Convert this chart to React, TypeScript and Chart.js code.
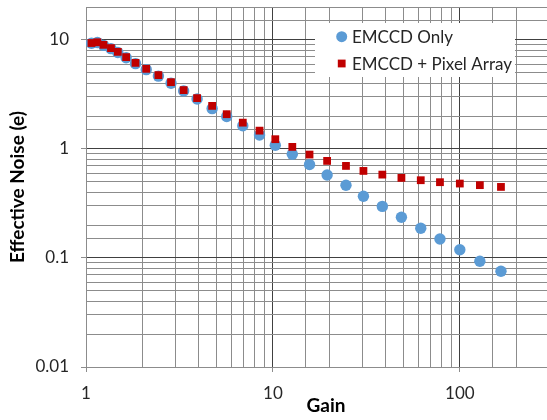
import React, { useEffect, useRef } from "react";
import { Chart, registerables } from "chart.js";

Chart.register(...registerables);

const gain = [1.07, 1.15, 1.24, 1.36, 1.48, 1.64, 1.84, 2.1, 2.44, 2.85, 3.33, 3.93, 4.73, 5.66, 6.9, 8.48, 10.3, 12.7, 15.7, 19.5, 24.6, 30.5, 38.5, 48.7, 61.8, 78.3, 100, 128, 166];
const emccdOnly = [9.3, 9.45, 8.9, 8.3, 7.65, 6.85, 6.05, 5.33, 4.65, 4.0, 3.4, 2.87, 2.34, 1.98, 1.63, 1.34, 1.08, 0.894, 0.718, 0.577, 0.464, 0.368, 0.297, 0.236, 0.187, 0.149, 0.119, 0.0933, 0.0755];
const emccdPixel = [9.35, 9.5, 9.0, 8.4, 7.76, 6.94, 6.15, 5.42, 4.75, 4.09, 3.46, 2.92, 2.48, 2.08, 1.74, 1.47, 1.227, 1.043, 0.887, 0.776, 0.698, 0.628, 0.581, 0.542, 0.516, 0.495, 0.481, 0.465, 0.448];
const seriesNames = ["EMCCD Only", "EMCCD + Pixel Array"];
const xTitle = "Gain";
const yTitle = "Effective Noise (e)";
const xRange = [1, 300];
const yRange = [0.01, 20];

const BLUE = "#5B9BD5";
const RED = "#C00000";
const FONT = "Lato";

const isMajor = (v: number) => {
  const l = Math.log10(v);
  return Math.abs(l - Math.round(l)) < 1e-6;
};
const fmt = (v: number) => (isMajor(v) ? String(Number(Number(v).toPrecision(3))) : "");

const legendPlugin = {
  id: "insideLegend",
  afterDraw(chart: any) {
    const ctx = chart.ctx;
    const ds = chart.data.datasets;
    ctx.save();
    // x-axis title
    ctx.fillStyle = "#000";
    ctx.font = `bold 19px ${FONT}`;
    ctx.textAlign = "center";
    ctx.textBaseline = "middle";
    ctx.fillText(xTitle, 326, 406);
    // legend
    ctx.fillStyle = "#ffffff";
    ctx.fillRect(315, 23, 200, 54);
    const rows = [36.7, 63.5];
    ds.forEach((d: any, i: number) => {
      const y = rows[i];
      ctx.fillStyle = d.backgroundColor;
      if (d.pointStyle === "rect") {
        ctx.fillRect(341.7 - 3.9, y - 3.9, 7.8, 7.8);
      } else {
        ctx.beginPath();
        ctx.arc(341.7, y, 5.5, 0, Math.PI * 2);
        ctx.fill();
      }
      ctx.fillStyle = "#262626";
      ctx.font = `17px ${FONT}`;
      ctx.textBaseline = "middle";
      ctx.textAlign = "left";
      ctx.fillText(d.label, 352, y + 1);
    });
    ctx.restore();
  },
};

export default function App() {
  const ref = useRef<HTMLCanvasElement>(null);
  useEffect(() => {
    document.body.style.margin = "0";
    const canvas = ref.current!;
    const chart = new Chart(canvas, {
      type: "scatter",
      data: {
        datasets: [
          {
            label: seriesNames[0],
            data: gain.map((g, i) => ({ x: g, y: emccdOnly[i] })),
            backgroundColor: BLUE,
            borderWidth: 0,
            pointStyle: "circle",
            pointRadius: 5.7,
            order: 2,
          },
          {
            label: seriesNames[1],
            data: gain.map((g, i) => ({ x: g, y: emccdPixel[i] })),
            backgroundColor: RED,
            borderWidth: 0,
            pointStyle: "rect",
            pointRadius: 5.5,
            order: 1,
          },
        ],
      },
      options: {
        responsive: false,
        animation: false,
        layout: { autoPadding: false, padding: { top: 7, left: 0, right: 0, bottom: 0 } },
        plugins: { legend: { display: false }, tooltip: { enabled: false } },
        scales: {
          x: {
            type: "logarithmic",
            min: xRange[0],
            max: xRange[1],
            afterFit: (s: any) => {
              s.height = 53;
              s.paddingLeft = 0;
              s.paddingRight = 0;
            },
            border: { color: "#8c8c8c", width: 1 },
            grid: {
              color: (c: any) => (isMajor(c.tick.value) ? "#404040" : "#8c8c8c"),
              tickColor: (c: any) => (isMajor(c.tick.value) ? "#8c8c8c" : "rgba(0,0,0,0)"),
              tickLength: 5,
            },
            ticks: {
              autoSkip: false,
              maxRotation: 0,
              padding: 11,
              color: "#262626",
              font: { family: FONT, size: 17 },
              callback: (v: any) => fmt(Number(v)),
            },
            title: { display: false },
          },
          y: {
            type: "logarithmic",
            min: yRange[0],
            max: yRange[1],
            afterFit: (s: any) => {
              s.width = 86;
              s.paddingTop = 0;
              s.paddingBottom = 0;
            },
            border: { color: "#8c8c8c", width: 1 },
            grid: {
              color: (c: any) => (isMajor(c.tick.value) ? "#404040" : "#8c8c8c"),
              tickColor: (c: any) => (isMajor(c.tick.value) ? "#8c8c8c" : "rgba(0,0,0,0)"),
              tickLength: 5,
            },
            ticks: {
              autoSkip: false,
              padding: 12,
              color: "#262626",
              font: { family: FONT, size: 17 },
              callback: (v: any) => fmt(Number(v)),
            },
            title: {
              display: true,
              text: yTitle,
              color: "#000",
              font: { family: FONT, size: 19, weight: "bold" },
              padding: { top: 6, bottom: 0 },
            },
          },
        },
      },
      plugins: [legendPlugin],
    });
    return () => chart.destroy();
  }, []);
  return (
    <div style={{ width: 547, height: 420, overflow: "hidden", background: "#fff" }}>
      <canvas ref={ref} width={549} height={420} style={{ display: "block" }} />
    </div>
  );
}
